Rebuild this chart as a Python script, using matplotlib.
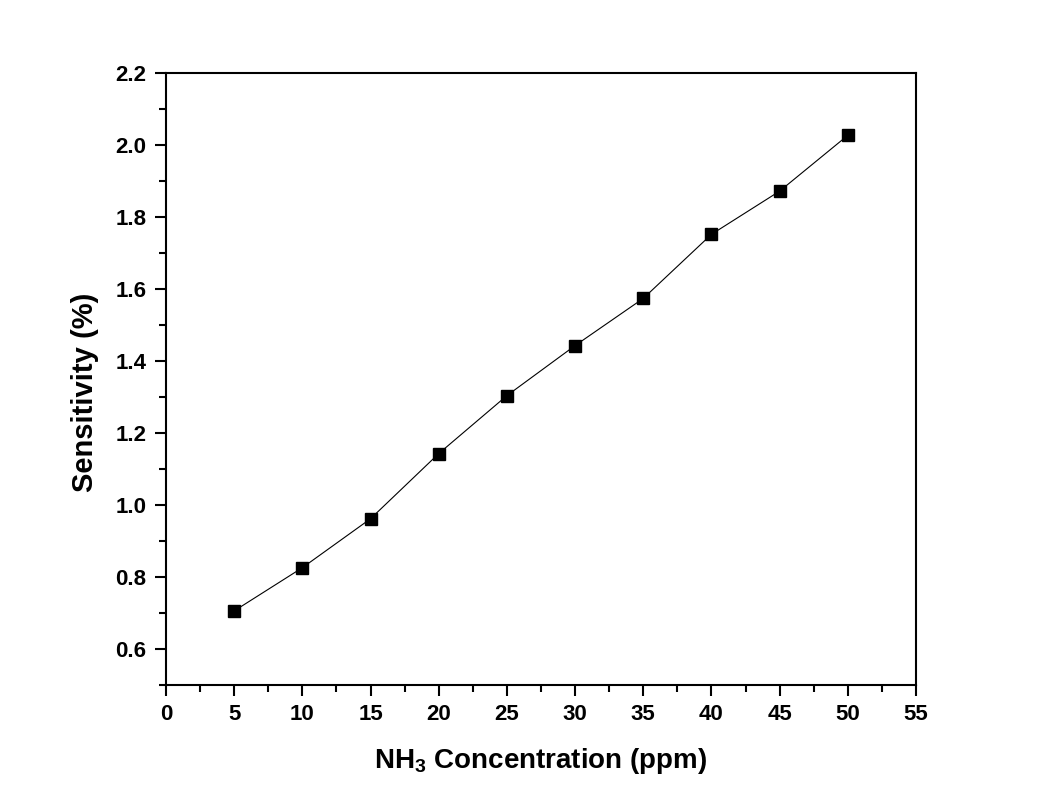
import numpy as np
import matplotlib.pyplot as plt

# NH3 concentration (ppm) and measured sensitivity (%)
concentration = [5, 10, 15, 20, 25, 30, 35, 40, 45, 50]
sensitivity = [0.706, 0.826, 0.962, 1.143, 1.304, 1.443, 1.574, 1.752, 1.872, 2.027]

plt.rcParams['font.family'] = ['Liberation Sans', 'DejaVu Sans']
plt.rcParams['font.weight'] = 'bold'
plt.rcParams['mathtext.fontset'] = 'custom'
plt.rcParams['mathtext.bf'] = 'Liberation Sans:bold'
plt.rcParams['mathtext.rm'] = 'Liberation Sans:bold'

fig = plt.figure(figsize=(10.43, 7.96), dpi=100)
ax = fig.add_axes([0.1592, 0.1394, 0.719, 0.7688])

ax.plot(concentration, sensitivity, color='black', linewidth=0.8,
        marker='s', markersize=9, markerfacecolor='black', markeredgecolor='black')

ax.set_xlim(0, 55)
ax.set_ylim(0.5, 2.2)
ax.set_xticks(np.arange(0, 56, 5))
ax.set_xticks(np.arange(2.5, 55, 5), minor=True)
ax.set_yticks(np.arange(0.6, 2.21, 0.2))
ax.set_yticks(np.arange(0.5, 2.21, 0.1), minor=True)
ax.yaxis.set_major_formatter(plt.FormatStrFormatter('%.1f'))

ax.tick_params(which='both', direction='out', top=False, right=False, width=1.5)
ax.tick_params(which='major', length=8, labelsize=16, pad=6)
ax.tick_params(which='minor', length=5)
for spine in ax.spines.values():
    spine.set_linewidth(1.5)

ax.set_xlabel('NH$_\\mathbf{3}$ Concentration (ppm)', fontsize=20, fontweight='bold', labelpad=15)
ax.set_ylabel('Sensitivity (%)', fontsize=21, fontweight='bold')
ax.yaxis.set_label_coords(-0.090, 0.479)

fig.savefig('out.png', dpi=100)
